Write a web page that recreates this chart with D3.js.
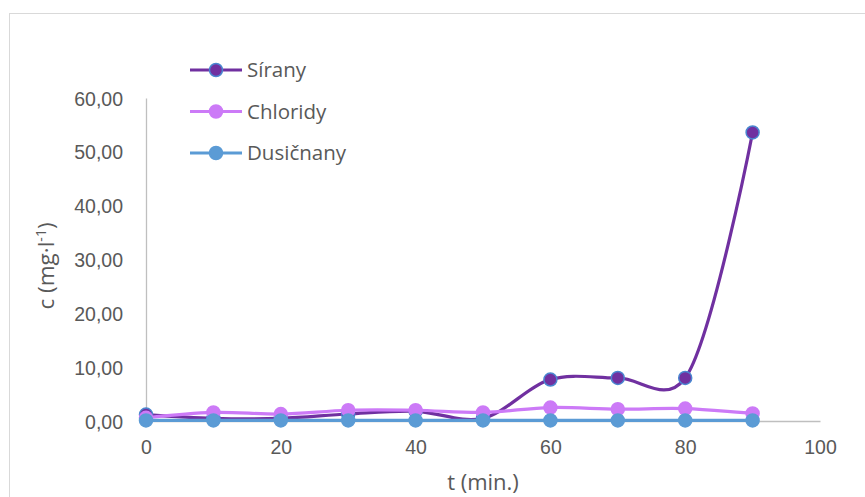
<!DOCTYPE html>
<html>
<head>
<meta charset="utf-8">
<script src="https://cdn.jsdelivr.net/npm/d3@7"></script>
<style>
  html, body { margin: 0; padding: 0; background: #fff; }
  svg { display: block; font-family: "Open Sans", Lato, sans-serif; }
</style>
</head>
<body>
<svg id="chart" width="865" height="497"></svg>
<script>
// Sampling times (min.)
const times = [0, 10, 20, 30, 40, 50, 60, 70, 80, 90];
// Concentrations (mg·l-1)
const sirany    = [1.2, 0.5, 0.5, 1.3, 1.8, 0.5, 7.7, 8.0, 8.0, 53.6];
const chloridy  = [0.6, 1.6, 1.3, 2.0, 2.0, 1.6, 2.5, 2.2, 2.3, 1.4];
const dusicnany = [0.1, 0.1, 0.1, 0.1, 0.1, 0.1, 0.1, 0.1, 0.1, 0.1];
const seriesNames = ["Sírany", "Chloridy", "Dusičnany"];
const xTicks = [0, 20, 40, 60, 80, 100];
const yTicks = [0, 10, 20, 30, 40, 50, 60];

const series = [
  { name: seriesNames[0], values: sirany,    line: "#7030a0", fill: "#7030a0", stroke: "#4a86d0" },
  { name: seriesNames[1], values: chloridy,  line: "#cc7af7", fill: "#cc7af7", stroke: "#cc7af7" },
  { name: seriesNames[2], values: dusicnany, line: "#5b9bd5", fill: "#5b9bd5", stroke: "#5b9bd5" }
];

const svg = d3.select("#chart");

// chart frame
svg.append("rect")
  .attr("x", 9.5).attr("y", 13.5)
  .attr("width", 900).attr("height", 520)
  .attr("fill", "#fff").attr("stroke", "#d9d9d9").attr("stroke-width", 1);

const x = d3.scaleLinear().domain([0, 100]).range([146, 820]);
const y = d3.scaleLinear().domain([0, 60]).range([421, 98]);

const fmt = v => d3.format(".2f")(v).replace(".", ",");

// y axis
const yAxis = svg.append("g")
  .attr("transform", `translate(${x(0)},0)`)
  .call(d3.axisLeft(y).tickValues(yTicks).tickFormat(fmt).tickSize(0).tickPadding(23));
yAxis.select(".domain").attr("stroke", "#bfbfbf").attr("stroke-width", 1.3);
yAxis.selectAll("text").attr("fill", "#595959").style("font-size", "19.5px").attr("dy", "0.36em");

// x axis
const xAxis = svg.append("g")
  .attr("transform", `translate(0,${y(0)})`)
  .call(d3.axisBottom(x).tickValues(xTicks).tickFormat(d3.format("d")).tickSize(0).tickPadding(19));
xAxis.select(".domain").attr("stroke", "#bfbfbf").attr("stroke-width", 1.3);
xAxis.selectAll("text").attr("fill", "#595959").style("font-size", "19.5px");

// axis titles
svg.append("text")
  .attr("x", 483).attr("y", 490)
  .attr("text-anchor", "middle")
  .attr("fill", "#595959").style("font-size", "22px")
  .text("t (min.)");

const yTitle = svg.append("text")
  .attr("transform", "translate(54,266) rotate(-90)")
  .attr("text-anchor", "middle")
  .attr("fill", "#595959").style("font-size", "22.5px");
yTitle.append("tspan").text("c (mg·l");
yTitle.append("tspan").attr("dy", "-8").style("font-size", "14px").text("-1");
yTitle.append("tspan").attr("dy", "8").text(")");

// series lines and markers
const line = d3.line()
  .x((d, i) => x(times[i]))
  .y(d => y(d))
  .curve(d3.curveCatmullRom.alpha(0.2));

series.forEach(s => {
  const g = svg.append("g");
  g.append("path")
    .attr("d", line(s.values))
    .attr("fill", "none")
    .attr("stroke", s.line)
    .attr("stroke-width", 3.2)
    .attr("stroke-linejoin", "round");
  g.selectAll("circle")
    .data(s.values)
    .join("circle")
    .attr("cx", (d, i) => x(times[i]))
    .attr("cy", d => y(d))
    .attr("r", 6.5)
    .attr("fill", s.fill)
    .attr("stroke", s.stroke)
    .attr("stroke-width", 1.5);
});

// legend
const legend = svg.append("g");
series.forEach((s, i) => {
  const ly = 70 + i * 41.5;
  legend.append("line")
    .attr("x1", 190).attr("x2", 242)
    .attr("y1", ly).attr("y2", ly)
    .attr("stroke", s.line).attr("stroke-width", 3.2);
  legend.append("circle")
    .attr("cx", 216).attr("cy", ly).attr("r", 6.5)
    .attr("fill", s.fill).attr("stroke", s.stroke).attr("stroke-width", 1.5);
  legend.append("text")
    .attr("x", 247).attr("y", ly).attr("dy", "0.36em")
    .attr("fill", "#595959").style("font-size", "20.5px")
    .text(s.name);
});
</script>
</body>
</html>
